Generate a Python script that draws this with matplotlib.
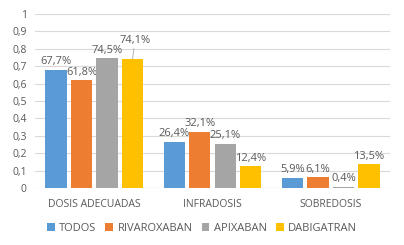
import numpy as np
import matplotlib.pyplot as plt

categories = ["DOSIS ADECUADAS", "INFRADOSIS", "SOBREDOSIS"]
series = ["TODOS", "RIVAROXABAN", "APIXABAN", "DABIGATRAN"]
todos = [0.677, 0.264, 0.059]
rivaroxaban = [0.618, 0.321, 0.061]
apixaban = [0.745, 0.251, 0.004]
dabigatran = [0.741, 0.124, 0.135]
colors = ["#5B9BD5", "#ED7D31", "#A5A5A5", "#FFC000"]

plt.rcParams['font.family'] = ['Open Sans', 'DejaVu Sans']
txt = "#595959"

fig = plt.figure(figsize=(4.04, 2.45), dpi=100)
ax = fig.add_axes([0.087, 0.233, 0.878, 0.71])

x = np.arange(len(categories))
width = 0.18
step = 0.216
data = [todos, rivaroxaban, apixaban, dabigatran]
for i, vals in enumerate(data):
    pos = x + (i - 1.5) * step
    ax.bar(pos, vals, width, color=colors[i], label=series[i], zorder=3)
    for j, v in enumerate(vals):
        lab = ("%.1f%%" % (v * 100)).replace(".", ",")
        if i == 3 and j == 0:
            ax.annotate(lab, xy=(pos[j], v), xytext=(pos[j] + 0.02, v + 0.075),
                        ha="center", va="bottom", fontsize=8, color=txt,
                        arrowprops=dict(arrowstyle="-", color="#A6A6A6", lw=0.6,
                                        shrinkA=0, shrinkB=0))
        else:
            ax.annotate(lab, xy=(pos[j], v), xytext=(0, 2), textcoords="offset points",
                        ha="center", va="bottom", fontsize=8, color=txt)

ax.set_xlim(-0.5, 2.5)
ax.set_ylim(0, 1)
ax.set_yticks(np.arange(0, 1.01, 0.1))
ax.set_yticklabels([("%g" % round(t, 1)).replace(".", ",") for t in np.arange(0, 1.01, 0.1)])
ax.set_xticks(x)
ax.set_xticklabels(categories)
ax.tick_params(length=0, labelsize=7.5, colors=txt, pad=6)
ax.tick_params(axis="x", pad=8)
ax.grid(axis="y", color="#D9D9D9", lw=0.8, zorder=0)
for s in ax.spines.values():
    s.set_visible(False)
ax.axhline(0, color="#D9D9D9", lw=0.8, zorder=2)

fig.legend(loc="center", bbox_to_anchor=(0.5, 0.068), ncol=4, frameon=False,
           fontsize=8, handlelength=0.7, handleheight=0.7, handletextpad=0.4,
           columnspacing=0.8, labelcolor=txt)

fig.savefig("out.png", dpi=100)
